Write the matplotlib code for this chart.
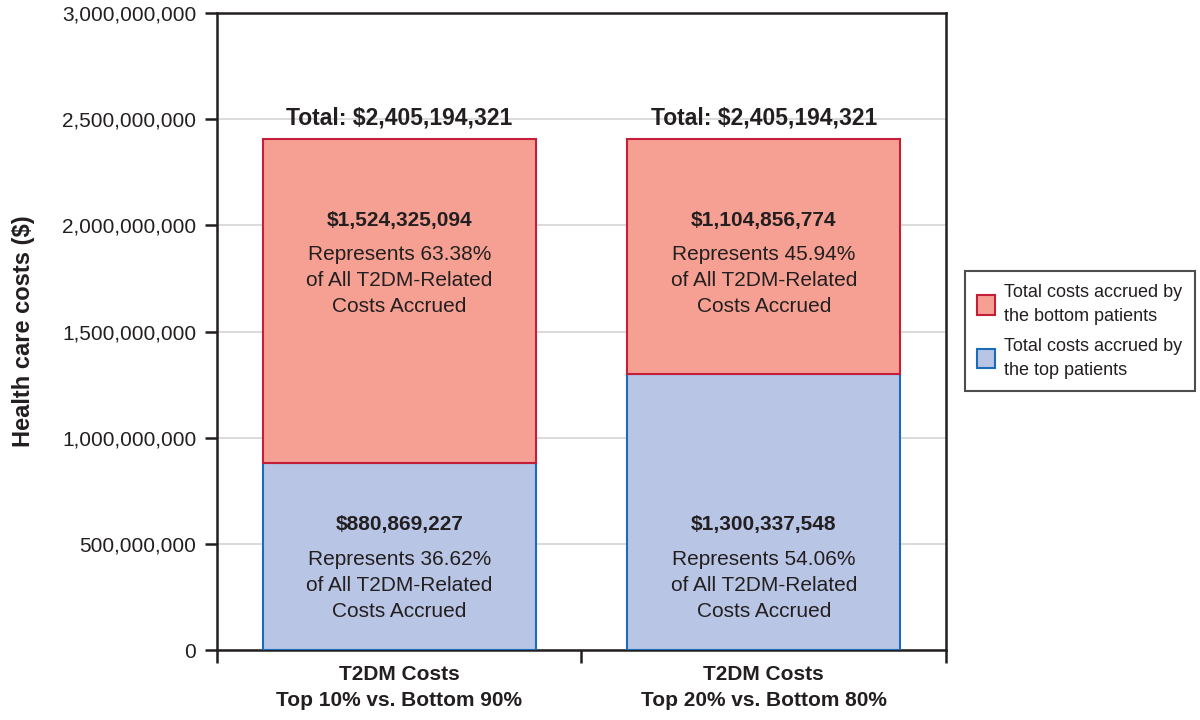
import matplotlib
matplotlib.use("Agg")
import matplotlib.pyplot as plt
import matplotlib.font_manager as fm
import numpy as np

# data
categories = ["T2DM Costs\nTop 10% vs. Bottom 90%", "T2DM Costs\nTop 20% vs. Bottom 80%"]
top_costs = [880869227, 1300337548]
bottom_costs = [1524325094, 1104856774]
top_pct = [36.62, 54.06]
bottom_pct = [63.38, 45.94]
totals = [2405194321, 2405194321]
yticks = [0, 500000000, 1000000000, 1500000000, 2000000000, 2500000000, 3000000000]

names = {f.name for f in fm.fontManager.ttflist}
fam = ["Liberation Sans Narrow", "Liberation Sans", "DejaVu Sans"]
fam = [f for f in fam if f in names] or ["DejaVu Sans"]
plt.rcParams["font.family"] = fam

ink = "#231f20"
red_fill, red_edge = "#f5a092", "#c41e3a"
blue_fill, blue_edge = "#b8c5e5", "#1a6cb8"

fig = plt.figure(figsize=(12, 7.2), dpi=100)
ax = fig.add_axes([0.1808, 0.0972, 0.6075, 0.8847])

x = np.array([0.5, 1.5])
w = 0.75
ax.bar(x, top_costs, w, color=blue_fill, edgecolor=blue_edge, linewidth=1.5, zorder=3,
       label="Total costs accrued by\nthe top patients")
ax.bar(x, bottom_costs, w, bottom=top_costs, color=red_fill, edgecolor=red_edge, linewidth=1.5,
       zorder=3, label="Total costs accrued by\nthe bottom patients")

body = "Represents {:.2f}%\nof All T2DM-Related\nCosts Accrued"
for i in range(len(x)):
    ax.text(x[i], totals[i] + 45e6, "Total: ${:,}".format(totals[i]), ha="center", va="bottom",
            fontsize=16.5, fontweight="bold", color=ink)
    # bottom (top patients) segment
    yb = 590e6
    ax.text(x[i], yb, "${:,}".format(top_costs[i]), ha="center", va="center",
            fontsize=15, fontweight="bold", color=ink, zorder=4)
    ax.text(x[i], yb - 120e6, body.format(top_pct[i]),
            ha="center", va="top", fontsize=15, color=ink, linespacing=1.45, zorder=4)
    # top (bottom patients) segment
    yt = totals[i] - 380e6
    ax.text(x[i], yt, "${:,}".format(bottom_costs[i]), ha="center", va="center",
            fontsize=15, fontweight="bold", color=ink, zorder=4)
    ax.text(x[i], yt - 120e6, body.format(bottom_pct[i]),
            ha="center", va="top", fontsize=15, color=ink, linespacing=1.45, zorder=4)

ax.set_xlim(0, 2)
ax.set_ylim(0, 3e9)
ax.set_yticks(yticks)
ax.set_yticklabels(["{:,}".format(v) for v in yticks])
ax.set_xticks([0, 1, 2])
ax.set_xticklabels([])
ax.set_xticks(x, minor=True)
ax.set_xticklabels(categories, minor=True, fontsize=15, fontweight="bold", color=ink,
                   linespacing=1.45)
ax.tick_params(axis="x", which="minor", length=0, pad=11)
ax.tick_params(axis="x", which="major", length=9, width=1.8, color=ink)
ax.tick_params(axis="y", length=9, width=1.8, color=ink, labelsize=15, labelcolor=ink, pad=6)
ax.yaxis.grid(True, color="#d4d4d4", linewidth=1.2, zorder=0)
ax.set_axisbelow(True)
for s in ax.spines.values():
    s.set_linewidth(1.8)
    s.set_color(ink)
ax.set_ylabel("Health care costs ($)", fontsize=17, fontweight="bold", color=ink)
ax.yaxis.set_label_coords(-0.25, 0.5)

h, l = ax.get_legend_handles_labels()
leg = fig.legend(h[::-1], l[::-1], loc="center", bbox_to_anchor=(0.9, 0.54), fontsize=13,
                 frameon=True, fancybox=False, edgecolor=ink, handlelength=1.0, handleheight=1.3,
                 labelspacing=0.7, borderpad=0.7, handletextpad=0.5, borderaxespad=0)
leg.get_frame().set_linewidth(1.5)
for t in leg.get_texts():
    t.set_color(ink)
    t.set_linespacing(1.55)

fig.savefig("out.png", dpi=100)
